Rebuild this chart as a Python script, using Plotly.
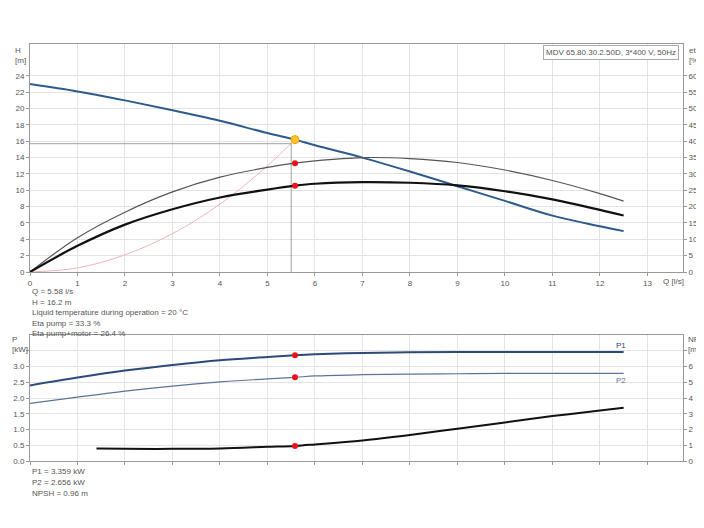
import plotly.graph_objects as go

Q = [0, 1, 2, 3, 4, 5, 5.58, 6, 7, 8, 9, 10, 11, 12, 12.5]
H = [23, 22.1, 21, 19.8, 18.5, 17, 16.2, 15.5, 14, 12.3, 10.5, 8.7, 6.9, 5.6, 5.0]
eta_pump = [0, 10.5, 18.3, 24.5, 29, 32, 33.3, 34, 35, 34.7, 33.5, 31.2, 28, 24, 21.7]
eta_total = [0, 8, 14.5, 19.2, 22.8, 25.2, 26.4, 27, 27.5, 27.3, 26.5, 24.7, 22.2, 19, 17.3]
Q_sys = [0, 1, 2, 3, 4, 5, 5.58]
H_sys = [0, 0.5, 2.1, 4.7, 8.3, 13.0, 16.2]
P1 = [2.4, 2.65, 2.87, 3.05, 3.2, 3.3, 3.359, 3.39, 3.43, 3.45, 3.46, 3.46, 3.46, 3.46, 3.46]
P2 = [1.83, 2.03, 2.22, 2.38, 2.51, 2.61, 2.656, 2.7, 2.74, 2.76, 2.77, 2.78, 2.78, 2.78, 2.78]
Q_npsh = [1.4, 2, 3, 4, 5, 5.58, 6, 7, 8, 9, 10, 11, 12, 12.5]
NPSH = [0.8, 0.78, 0.77, 0.8, 0.9, 0.96, 1.05, 1.3, 1.65, 2.05, 2.45, 2.85, 3.2, 3.38]
Q_op, H_op, eta_op, etat_op = 5.58, 16.2, 33.3, 26.4
P1_op, P2_op, NPSH_op = 3.359, 2.656, 0.96
Q_line, H_line = 5.5, 15.7

info_top = ["Q = 5.58 l/s", "H = 16.2 m", "Liquid temperature during operation = 20 °C",
            "Eta pump = 33.3 %", "Eta pump+motor = 26.4 %"]
info_bot = ["P1 = 3.359 kW", "P2 = 2.656 kW", "NPSH = 0.96 m"]
title = "MDV 65.80.30.2.50D, 3*400 V, 50Hz"

W, Hh = 704, 528
L, R = 22, 29
def py(p): return 1 - p / Hh
def px(p): return (p - L) / (W - L - R)

fig = go.Figure()
def ln(c, w): return dict(color=c, width=w, shape="spline", smoothing=1)
fig.add_trace(go.Scatter(x=Q_sys, y=H_sys, mode="lines", line=ln("#f4b4b4", 1), xaxis="x", yaxis="y"))
fig.add_trace(go.Scatter(x=[0, Q_line, Q_line], y=[H_line, H_line, 0], mode="lines", line=dict(color="#888", width=0.8), xaxis="x", yaxis="y"))
fig.add_trace(go.Scatter(x=Q, y=H, mode="lines", line=ln("#2f5a8c", 2), xaxis="x", yaxis="y"))
fig.add_trace(go.Scatter(x=Q, y=eta_pump, mode="lines", line=ln("#555555", 1.2), xaxis="x", yaxis="y2"))
fig.add_trace(go.Scatter(x=Q, y=eta_total, mode="lines", line=ln("#111111", 2.2), xaxis="x", yaxis="y2"))
fig.add_trace(go.Scatter(x=[Q_op, Q_op], y=[eta_op, etat_op], mode="markers", marker=dict(color="#e8141b", size=6), xaxis="x", yaxis="y2"))
fig.add_trace(go.Scatter(x=[Q_op], y=[H_op], mode="markers", marker=dict(color="#ffc629", size=8, line=dict(color="#f0a000", width=1)), xaxis="x", yaxis="y"))

fig.add_trace(go.Scatter(x=Q, y=P1, mode="lines", line=ln("#2c4a7a", 2), xaxis="x2", yaxis="y3"))
fig.add_trace(go.Scatter(x=Q, y=P2, mode="lines", line=ln("#5a7498", 1.2), xaxis="x2", yaxis="y3"))
fig.add_trace(go.Scatter(x=Q_npsh, y=NPSH, mode="lines", line=ln("#111111", 2), xaxis="x2", yaxis="y4"))
fig.add_trace(go.Scatter(x=[Q_op, Q_op], y=[P1_op, P2_op], mode="markers", marker=dict(color="#e8141b", size=6), xaxis="x2", yaxis="y3"))
fig.add_trace(go.Scatter(x=[Q_op], y=[NPSH_op], mode="markers", marker=dict(color="#e8141b", size=6), xaxis="x2", yaxis="y4"))

ax = dict(showgrid=True, gridcolor="#e3e3e3", gridwidth=1, zeroline=False, showline=True,
          linecolor="#999", ticks="outside", tickcolor="#999", ticklen=3, automargin=False,
          tickfont=dict(size=8, color="#555"), fixedrange=True)
top_dom = [py(264), py(36)]
bot_dom = [py(453), py(327)]
fig.update_layout(
    width=W, height=Hh, margin=dict(l=L, r=R, t=0, b=0, autoexpand=False),
    paper_bgcolor="white", plot_bgcolor="white", showlegend=False,
    font=dict(family="Liberation Sans, Arial", size=8, color="#555"),
    xaxis=dict(ax, range=[0, 13.75], tickvals=list(range(0, 14)), domain=[0, 1], anchor="y", mirror=True),
    yaxis=dict(ax, range=[0, 27.9], tickvals=list(range(0, 25, 2)), domain=top_dom, anchor="x"),
    yaxis2=dict(ax, range=[0, 69.75], tickvals=list(range(0, 61, 5)), overlaying="y", side="right", anchor="x", showgrid=False),
    xaxis2=dict(ax, range=[0, 13.75], tickvals=list(range(0, 14)), domain=[0, 1], anchor="y3", showticklabels=False, mirror=True),
    yaxis3=dict(ax, range=[0, 4.0], tickvals=[0, 0.5, 1, 1.5, 2, 2.5, 3, 3.5], ticktext=["0.0", "0.5", "1.0", "1.5", "2.0", "2.5", "3.0", ""], domain=bot_dom, anchor="x2"),
    yaxis4=dict(ax, range=[0, 8], tickvals=list(range(0, 8)), ticktext=[str(i) for i in range(7)] + [""], overlaying="y3", side="right", anchor="x2", showgrid=False),
)
f = dict(size=8, color="#555")
ann = [
    dict(x=px(12), y=py(36), text="H<br>[m]", xanchor="center"),
    dict(x=px(679), y=py(36), text="eta<br>[%]", xanchor="left"),
    dict(x=px(653), y=py(267), text="Q [l/s]", xanchor="left"),
    dict(x=px(12), y=py(325), text="P<br>[kW]", xanchor="center"),
    dict(x=px(678), y=py(325), text="NPSH<br>[m]", xanchor="left"),
    dict(x=px(606), y=py(331), text="P1", xanchor="left", font=dict(size=8, color="#2c4a7a")),
    dict(x=px(606), y=py(366), text="P2", xanchor="left", font=dict(size=8, color="#5a7498")),
]
for i, t in enumerate(info_top):
    ann.append(dict(x=px(22), y=py(277 + 10.5 * i), text=t, xanchor="left"))
for i, t in enumerate(info_bot):
    ann.append(dict(x=px(22), y=py(457 + 11 * i), text=t, xanchor="left"))
for a in ann:
    a.setdefault("font", f)
    fig.add_annotation(xref="paper", yref="paper", yanchor="top", showarrow=False, align="left", **a)
fig.add_annotation(xref="paper", yref="paper", x=px(671), y=py(37), xanchor="right", yanchor="top",
                   text=title, showarrow=False, font=dict(size=8, color="#555"),
                   bordercolor="#aaa", borderwidth=1, borderpad=2, bgcolor="white")
fig.write_html("out.html")
